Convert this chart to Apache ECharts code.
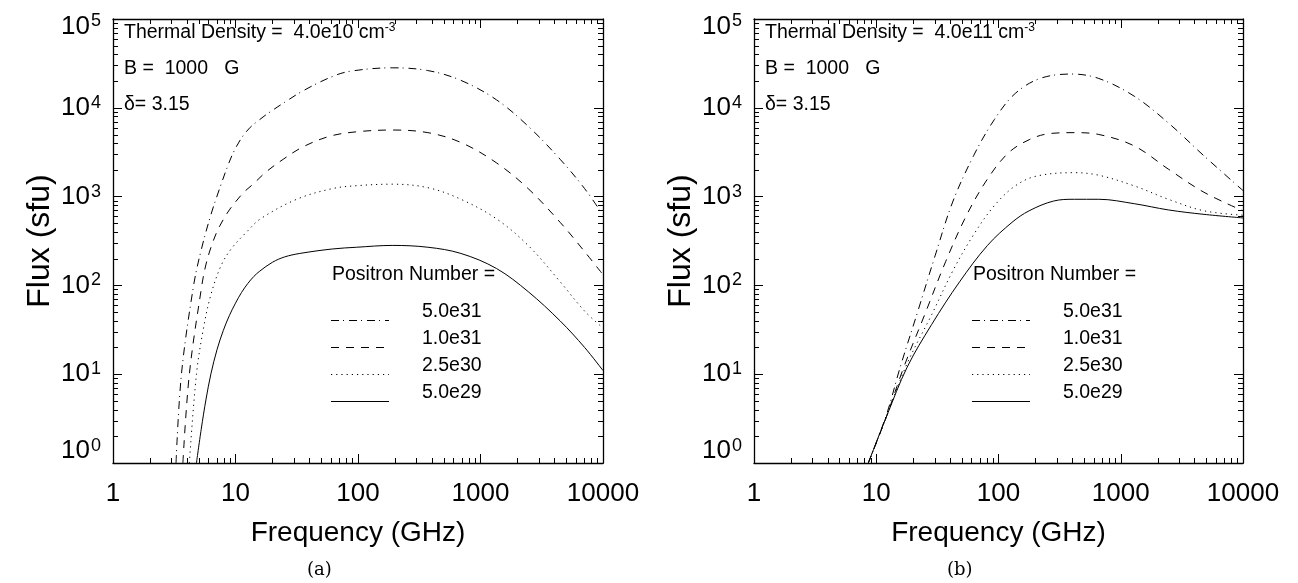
<!DOCTYPE html>
<html><head><meta charset="utf-8">
<script src="https://cdn.jsdelivr.net/npm/echarts@6/dist/echarts.min.js"></script>
<style>html,body{margin:0;padding:0;background:#fff}#c{width:1298px;height:583px}</style>
</head><body><div id="c"></div>
<script>
// ---- data (frequency in GHz, flux in sfu) ----
const seriesNames = ['5.0e31', '1.0e31', '2.5e30', '5.0e29'];
const xTickLabels = ['1', '10', '100', '1000', '10000'];
const yTickExponents = ['0', '1', '2', '3', '4', '5'];
const minorMantissas = [2, 3, 4, 5, 6, 7, 8, 9];
const xDecades = [1, 10, 100, 1000];
const yDecades = [1, 10, 100, 1000, 10000];

// panel (a): thermal density 4.0e10 cm^-3
const a_freq_5e31 = [3.27, 3.62, 4.55, 5.25, 6.31, 7.46, 8.51, 9.55, 11.2, 13.2, 15.5, 18.1, 25.1, 35.5, 58.9, 85.1, 190, 370, 690, 1350, 2450, 4470, 7080, 10000];
const a_flux_5e31 = [1, 10, 100, 251, 631, 1260, 2090, 3090, 4570, 6030, 7240, 8510, 11500, 15500, 21900, 25700, 28200, 26300, 20400, 12300, 6200, 2630, 1230, 620];
const a_freq_1e31 = [3.72, 4.2, 5.31, 5.75, 6.31, 7.08, 7.94, 8.91, 10, 11.7, 13.9, 17.8, 24.5, 35.5, 59, 97.7, 190, 372, 692, 1350, 2450, 4470, 7080, 10000];
const a_flux_1e31 = [1, 10, 100, 174, 269, 407, 550, 708, 871, 1120, 1380, 1900, 2630, 3630, 4790, 5370, 5620, 5250, 4070, 2400, 1230, 513, 240, 132];
const a_freq_2_5e30 = [4.2, 4.8, 5.48, 6.31, 7.67, 9.33, 12.3, 16, 31.6, 61.7, 100, 190, 372, 692, 1350, 2450, 4470, 7080, 10000];
const a_flux_2_5e30 = [1, 10, 33.1, 79.4, 170, 263, 398, 562, 933, 1230, 1330, 1380, 1260, 933, 562, 282, 110, 51.3, 33.1];
const a_freq_5e29 = [4.8, 5.25, 5.75, 6.31, 7.08, 7.94, 8.91, 10, 11.2, 12.6, 14.1, 15.8, 20, 25.1, 33.5, 61.7, 97.7, 190, 372, 692, 1350, 2450, 4470, 7080, 10000];
const a_flux_5e29 = [1, 2.4, 5.25, 10.2, 19.1, 30.9, 45.7, 63.1, 83.2, 105, 126, 145, 182, 209, 229, 257, 269, 282, 269, 229, 155, 85.1, 39.8, 20, 11];

// panel (b): thermal density 4.0e11 cm^-3
const b_freq_5e31 = [8.61, 12.1, 15.7, 21.9, 30.4, 42.2, 62.5, 92.7, 137, 219, 394, 661, 1290, 2450, 4790, 10000];
const b_flux_5e31 = [1, 3.47, 12.0, 51.3, 219, 871, 2880, 7410, 14500, 21400, 24000, 21400, 13500, 6760, 2880, 1170];
const b_freq_1e31 = [8.61, 12.1, 16.8, 24.9, 37.0, 54.8, 81.3, 120, 178, 263, 417, 661, 1290, 2450, 4790, 10000];
const b_flux_1e31 = [1, 3.31, 12.0, 46.8, 186, 617, 1580, 3090, 4370, 5130, 5250, 5010, 3720, 2040, 1120, 692];
const b_freq_2_5e30 = [8.61, 12.1, 17.9, 28.4, 42.2, 62.5, 92.7, 137, 204, 417, 661, 1290, 2450, 4790, 10000];
const b_flux_2_5e30 = [1, 3.31, 13.2, 46.8, 145, 372, 794, 1320, 1700, 1860, 1740, 1320, 933, 692, 617];
const b_freq_5e29 = [8.61, 12.1, 17.9, 28.4, 48.1, 81.3, 129, 178, 282, 417, 661, 1290, 2450, 4790, 10000];
const b_flux_5e29 = [1, 3.31, 12.0, 36.3, 110, 282, 513, 692, 891, 933, 933, 832, 708, 631, 575];

// ---- styling ----
const FONT = "'Liberation Sans', Arial, Helvetica, sans-serif";
const SERIF = "'DejaVu Serif','Liberation Serif',serif";
const INK = '#000';
const dashStyles = [[8, 4, 1, 5], [8, 7], [1.2, 4], 'solid'];

const pair = (fx, fy) => fx.map((f, i) => [f, fy[i]]);
const panelData = [
  [pair(a_freq_5e31, a_flux_5e31), pair(a_freq_1e31, a_flux_1e31), pair(a_freq_2_5e30, a_flux_2_5e30), pair(a_freq_5e29, a_flux_5e29)],
  [pair(b_freq_5e31, b_flux_5e31), pair(b_freq_1e31, b_flux_1e31), pair(b_freq_2_5e30, b_flux_2_5e30), pair(b_freq_5e29, b_flux_5e29)]
];
const xMinorTicks = xDecades.flatMap(d => minorMantissas.map(m => m * d));
const yMinorTicks = yDecades.flatMap(d => minorMantissas.map(m => m * d));

const grids = [
  { left: 113, top: 15, width: 490, height: 448 },
  { left: 754, top: 15, width: 489, height: 448 }
];

const lineSt = { color: INK, width: 1.3 };
const tick = { show: true, inside: true, length: 9, lineStyle: { color: INK, width: 1 } };

const yRich = {
  b: { fontFamily: FONT, fontSize: 26, color: INK, lineHeight: 28 },
  s: { fontFamily: FONT, fontSize: 18, color: INK, verticalAlign: 'top', lineHeight: 28, padding: [0, 0, 10, 1] },
  g0: { fontSize: 10, lineHeight: 24 },
  g5: { fontSize: 10, lineHeight: 15 }
};
const yFormatter = v => {
  const e = yTickExponents[Math.round(Math.log10(v))];
  const lab = '{b|10}{s|' + e + '}';
  if (e === '0') return lab + '\n{g0| }';
  if (e === '5') return '{g5| }\n' + lab;
  return lab;
};

const xAxes = [], yAxes = [];
grids.forEach((g, gi) => {
  xAxes.push({
    type: 'log', logBase: 10, min: 1, max: 10000, gridIndex: gi, position: 'bottom',
    axisLine: { lineStyle: lineSt }, axisTick: tick, minorTick: { show: false }, splitLine: { show: false },
    axisLabel: { fontFamily: FONT, fontSize: 26, color: INK, margin: 18,
      formatter: v => xTickLabels[Math.round(Math.log10(v))] },
    name: 'Frequency (GHz)', nameLocation: 'middle', nameGap: 56,
    nameTextStyle: { fontFamily: FONT, fontSize: 28, color: INK }
  });
  xAxes.push({
    type: 'log', logBase: 10, min: 1, max: 10000, gridIndex: gi, position: 'top',
    axisLine: { lineStyle: lineSt }, axisTick: tick, minorTick: { show: false }, splitLine: { show: false },
    axisLabel: { show: false }
  });
  yAxes.push({
    type: 'log', logBase: 10, min: 1, max: 100000, gridIndex: gi, position: 'left',
    axisLine: { lineStyle: lineSt }, axisTick: tick, minorTick: { show: false }, splitLine: { show: false },
    axisLabel: { margin: 12, color: INK, formatter: yFormatter, rich: yRich },
    name: 'Flux (sfu)', nameLocation: 'middle', nameGap: 57,
    nameTextStyle: { fontFamily: FONT, fontSize: 32, color: INK }
  });
  yAxes.push({
    type: 'log', logBase: 10, min: 1, max: 100000, gridIndex: gi, position: 'right',
    axisLine: { lineStyle: lineSt }, axisTick: tick, minorTick: { show: false }, splitLine: { show: false },
    axisLabel: { show: false }
  });
});

const series = [];
panelData.forEach((curves, pi) => {
  curves.forEach((d, si) => {
    series.push({
      type: 'line', name: seriesNames[si], data: d, xAxisIndex: pi * 2, yAxisIndex: pi * 2,
      showSymbol: false, symbol: 'none', smooth: 0.35, clip: true, silent: true,
      lineStyle: { color: INK, width: 1, type: dashStyles[si] }, itemStyle: { color: INK }
    });
  });
  // log-spaced minor ticks (2..9 per decade) on all four sides
  const MINOR = 5;
  series.push({
    type: 'custom', xAxisIndex: pi * 2, yAxisIndex: pi * 2, silent: true, clip: false,
    data: xMinorTicks.map(v => [v, 1]),
    renderItem: (params, api) => {
      const cs = params.coordSys;
      const x = Math.round(api.coord([api.value(0), 1])[0]) + 0.5;
      const yb = cs.y + cs.height, yt = cs.y;
      return { type: 'group', children: [
        { type: 'line', shape: { x1: x, y1: yb, x2: x, y2: yb - MINOR }, style: { stroke: INK, lineWidth: 1 } },
        { type: 'line', shape: { x1: x, y1: yt, x2: x, y2: yt + MINOR }, style: { stroke: INK, lineWidth: 1 } }
      ] };
    }
  });
  series.push({
    type: 'custom', xAxisIndex: pi * 2, yAxisIndex: pi * 2, silent: true, clip: false,
    data: yMinorTicks.map(v => [1, v]),
    renderItem: (params, api) => {
      const cs = params.coordSys;
      const y = Math.round(api.coord([1, api.value(1)])[1]) + 0.5;
      const xl = cs.x, xr = cs.x + cs.width;
      return { type: 'group', children: [
        { type: 'line', shape: { x1: xl, y1: y, x2: xl + MINOR, y2: y }, style: { stroke: INK, lineWidth: 1 } },
        { type: 'line', shape: { x1: xr, y1: y, x2: xr - MINOR, y2: y }, style: { stroke: INK, lineWidth: 1 } }
      ] };
    }
  });
});

const T = (x, y, txt, extra) => ({ type: 'text', left: x, top: y, silent: true,
  style: Object.assign({ text: txt, fontFamily: FONT, fontSize: 19.5, fill: INK }, extra || {}) });
const annot = (x, dens) => [
  T(x, 22, '{a|Thermal Density =  ' + dens + ' cm}{s|-3}', {
    rich: { a: { fontFamily: FONT, fontSize: 19.5, fill: INK, lineHeight: 22 },
            s: { fontFamily: FONT, fontSize: 12, fill: INK, verticalAlign: 'top', lineHeight: 22, padding: [0, 0, 8, 0] } } }),
  T(x, 59, 'B =  1000   G'),
  T(x, 95, '\u03b4= 3.15')
];
// legend block (samples + labels) for each panel
const legendRowsY = [320, 347, 374, 401];
const legendBlock = (x0) => {
  const items = [T(x0 + 1, 265, 'Positron Number =')];
  seriesNames.forEach((nm, i) => {
    const y = legendRowsY[i] + 0.5;
    items.push({ type: 'line', silent: true, shape: { x1: x0, y1: y, x2: x0 + 58, y2: y },
      style: { stroke: INK, lineWidth: 1, lineDash: dashStyles[i] === 'solid' ? null : dashStyles[i] } });
    items.push(T(x0 + 91, legendRowsY[i] - 18, nm));
  });
  return items;
};
const graphic = [
  ...annot(124, '4.0e10'), ...annot(765, '4.0e11'),
  ...legendBlock(331), ...legendBlock(972),
  T(307, 561, '(a)', { fontFamily: SERIF, fontSize: 18 }),
  T(947, 561, '(b)', { fontFamily: SERIF, fontSize: 18 })
];

const chart = echarts.init(document.getElementById('c'), null, { renderer: 'canvas' });
chart.setOption({
  animation: false, backgroundColor: '#fff',
  grid: grids, xAxis: xAxes, yAxis: yAxes, series, graphic
});
</script></body></html>
